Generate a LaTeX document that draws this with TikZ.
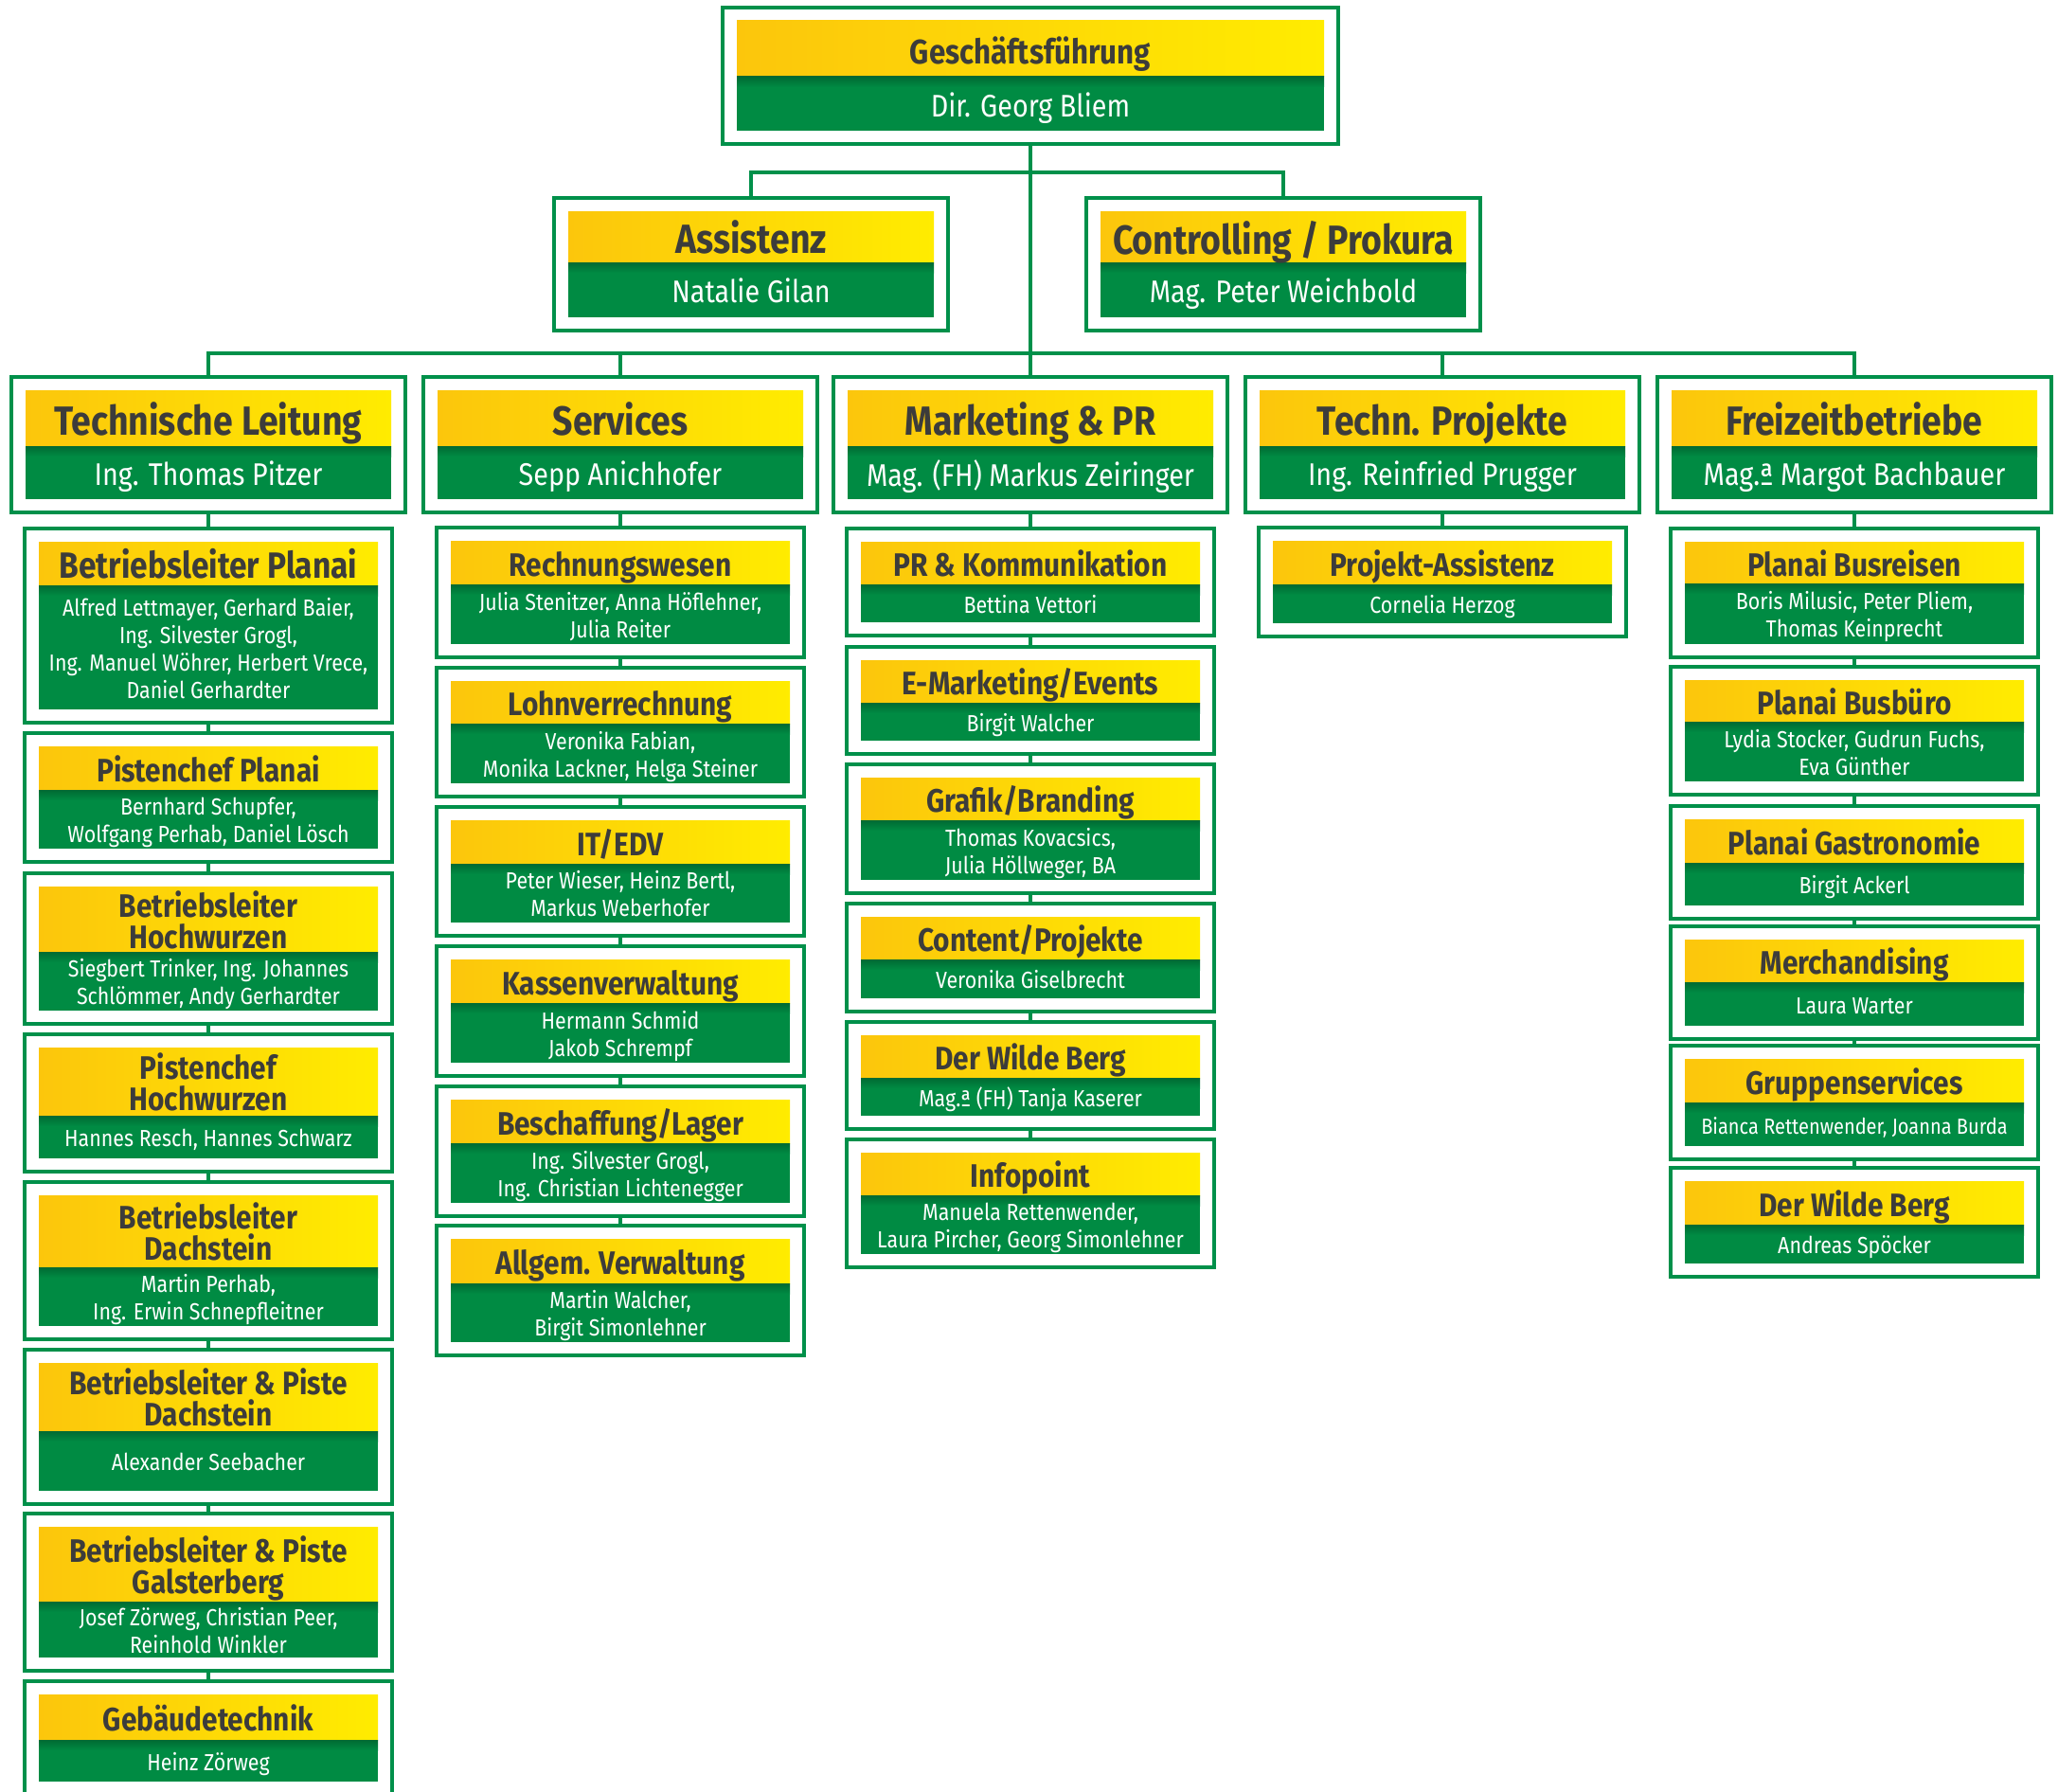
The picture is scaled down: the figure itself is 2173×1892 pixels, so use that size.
\documentclass[tikz,border=0pt]{standalone}
\usepackage{fontspec}
\setmainfont{Fira Sans}[FakeStretch=0.87]
\definecolor{linegreen}{HTML}{00904A}
\definecolor{bandgreen}{HTML}{008B43}
\definecolor{bandshadow}{HTML}{006A33}
\definecolor{ylA}{HTML}{FCC60C}
\definecolor{ylB}{HTML}{FFEC00}
\definecolor{headgray}{HTML}{3C3C3B}
\newcommand\tstrut{\vrule width0pt height0.8em depth0pt\relax}
\newcommand\bstrut{\vrule width0pt height0pt depth0.27em\relax}
\tikzset{
  outerbox/.style={draw=linegreen, line width=3.2pt, fill=white, inner sep=0pt, outer sep=0pt},
  conn/.style={draw=linegreen, line width=3.4pt},
  tophead/.style={text=headgray, font=\bfseries\fontsize{36}{36}\selectfont, inner sep=0pt, align=center, yshift=-6.5pt},
  topbody/.style={text=white, font=\fontsize{33}{36}\selectfont, inner sep=0pt, align=center, yshift=-5pt},
  bighead/.style={text=headgray, font=\bfseries\fontsize{43}{43}\selectfont, inner sep=0pt, align=center, yshift=-6.3pt},
  bigbody/.style={text=white, font=\fontsize{33}{36}\selectfont, inner sep=0pt, align=center, yshift=-5pt},
  subhead/.style={text=headgray, font=\bfseries\fontsize{34.3}{33}\selectfont, inner sep=0pt, align=center, yshift=-5pt},
  subbody/.style={text=white, font=\fontsize{24.6}{29}\selectfont, inner sep=0pt, align=center, yshift=-3.5pt},
}
% #1 name, #2 cx, #3 half width, #4 top, #5 bottom, #6 split, #7 header, #8 body, #9 style prefix
\newcommand\obox[9]{%
  \node[outerbox, minimum width={(2*#3)*1pt}, minimum height={(#5-#4)*1pt}] (#1) at (#2,{(#4+#5)/2}) {};
  \shade[left color=ylA, right color=ylB] ({#2-#3+15},{#4+14}) rectangle ({#2+#3-15},#6);
  \fill[bandgreen] ({#2-#3+15},#6) rectangle ({#2+#3-15},{#5-14});
  \shade[top color=bandshadow, bottom color=bandgreen] ({#2-#3+15},#6) rectangle ({#2+#3-15},{#6+11});
  \node[#9head] (#1-h) at (#2,{(#4+14+#6)/2}) {\tstrut#7\bstrut};
  \node[#9body] (#1-b) at (#2,{(#6+#5-14)/2}) {\tstrut#8\bstrut};
}
\newcommand\subx[7]{\obox{#1}{#2}{194}{#3}{#4}{#5}{#6}{#7}{sub}}
\begin{document}
\begin{tikzpicture}[x=1pt,y=-1pt]
\useasboundingbox (0,0) rectangle (2173,1892);
% top levels
\obox{gf}{1088}{325}{8}{152}{81}{Geschäftsführung}{Dir. Georg Bliem}{top}
\obox{asst}{793}{208}{209}{349}{277}{Assistenz}{Natalie Gilan}{big}
\obox{ctrl}{1355}{208}{209}{349}{277}{Controlling / Prokura}{Mag. Peter Weichbold}{big}
\obox{tl}{220}{208}{398}{541}{471}{Technische Leitung}{Ing. Thomas Pitzer}{big}
\obox{sv}{655}{208}{398}{541}{471}{Services}{Sepp Anichhofer}{big}
\obox{mk}{1088}{208}{398}{541}{471}{Marketing \& PR}{Mag. (FH) Markus Zeiringer}{big}
\obox{tp}{1523}{208}{398}{541}{471}{Techn. Projekte}{Ing. Reinfried Prugger}{big}
\obox{fz}{1958}{208}{398}{541}{471}{Freizeitbetriebe}{Mag.ª Margot Bachbauer}{big}
% Technische Leitung
\subx{tl1}{220}{558}{763}{618}{{\fontsize{38.5}{38}\selectfont Betriebsleiter Planai}}{Alfred Lettmayer, Gerhard Baier,\\Ing. Silvester Grogl,\\Ing. Manuel Wöhrer, Herbert Vrece,\\Daniel Gerhardter}
\subx{tl2}{220}{774}{910}{834}{Pistenchef Planai}{Bernhard Schupfer,\\Wolfgang Perhab, Daniel Lösch}
\subx{tl3}{220}{922}{1081}{1005}{Betriebsleiter\\Hochwurzen}{Siegbert Trinker, Ing. Johannes\\Schlömmer, Andy Gerhardter}
\subx{tl4}{220}{1092}{1237}{1178}{Pistenchef\\Hochwurzen}{Hannes Resch, Hannes Schwarz}
\subx{tl5}{220}{1248}{1414}{1338}{Betriebsleiter\\Dachstein}{Martin Perhab,\\Ing. Erwin Schnepfleitner}
\subx{tl6}{220}{1425}{1588}{1511}{Betriebsleiter \& Piste\\Dachstein}{Alexander Seebacher}
\subx{tl7}{220}{1598}{1764}{1691}{Betriebsleiter \& Piste\\Galsterberg}{Josef Zörweg, Christian Peer,\\Reinhold Winkler}
\subx{tl8}{220}{1775}{1895}{1837}{Gebäudetechnik}{Heinz Zörweg}
% Services
\subx{sv1}{655}{557}{694}{617}{Rechnungswesen}{Julia Stenitzer, Anna Höflehner,\\Julia Reiter}
\subx{sv2}{655}{705}{841}{764}{Lohnverrechnung}{Veronika Fabian,\\Monika Lackner, Helga Steiner}
\subx{sv3}{655}{852}{988}{912}{IT/EDV}{Peter Wieser, Heinz Bertl,\\Markus Weberhofer}
\subx{sv4}{655}{999}{1136}{1059}{Kassenverwaltung}{Hermann Schmid\\Jakob Schrempf}
\subx{sv5}{655}{1147}{1284}{1207}{Beschaffung/Lager}{Ing. Silvester Grogl,\\Ing. Christian Lichtenegger}
\subx{sv6}{655}{1294}{1431}{1355}{Allgem. Verwaltung}{Martin Walcher,\\Birgit Simonlehner}
% Marketing
\subx{mk1}{1088}{558}{671}{617}{PR \& Kommunikation}{Bettina Vettori}
\subx{mk2}{1088}{683}{796}{742}{E-Marketing/Events}{Birgit Walcher}
\subx{mk3}{1088}{807}{943}{866}{Grafik/Branding}{Thomas Kovacsics,\\Julia Höllweger, BA}
\subx{mk4}{1088}{954}{1068}{1013}{Content/Projekte}{Veronika Giselbrecht}
\subx{mk5}{1088}{1079}{1192}{1138}{Der Wilde Berg}{Mag.ª (FH) Tanja Kaserer}
\subx{mk6}{1088}{1203}{1338}{1262}{Infopoint}{Manuela Rettenwender,\\Laura Pircher, Georg Simonlehner}
% Techn. Projekte
\subx{tp1}{1523}{557}{672}{617}{Projekt-Assistenz}{Cornelia Herzog}
% Freizeitbetriebe
\subx{fz1}{1958}{558}{694}{616}{Planai Busreisen}{Boris Milusic, Peter Pliem,\\Thomas Keinprecht}
\subx{fz2}{1958}{704}{839}{762}{Planai Busbüro}{Lydia Stocker, Gudrun Fuchs,\\Eva Günther}
\subx{fz3}{1958}{851}{970}{911}{Planai Gastronomie}{Birgit Ackerl}
\subx{fz4}{1958}{978}{1097}{1037}{Merchandising}{Laura Warter}
\subx{fz5}{1958}{1104}{1224}{1164}{Gruppenservices}{{\fontsize{23}{29}\selectfont Bianca Rettenwender, Joanna Burda}}
\subx{fz6}{1958}{1233}{1348}{1293}{Der Wilde Berg}{Andreas Spöcker}
% connectors
\coordinate (bar1) at (1088,182);
\coordinate (bar2) at (1088,373);
\draw[conn] (gf.south) -- (mk.north);
\draw[conn] (asst.north) |- (bar1);
\draw[conn] (ctrl.north) |- (bar1);
\draw[conn] (tl.north) |- (bar2);
\draw[conn] (sv.north) |- (bar2);
\draw[conn] (tp.north) |- (bar2);
\draw[conn] (fz.north) |- (bar2);
\draw[conn] (tl.south) -- (tl1.north);
\foreach \a/\b in {tl1/tl2,tl2/tl3,tl3/tl4,tl4/tl5,tl5/tl6,tl6/tl7,tl7/tl8}
  \draw[conn] (\a.south) -- (\b.north);
\draw[conn] (sv.south) -- (sv1.north);
\foreach \a/\b in {sv1/sv2,sv2/sv3,sv3/sv4,sv4/sv5,sv5/sv6}
  \draw[conn] (\a.south) -- (\b.north);
\draw[conn] (mk.south) -- (mk1.north);
\foreach \a/\b in {mk1/mk2,mk2/mk3,mk3/mk4,mk4/mk5,mk5/mk6}
  \draw[conn] (\a.south) -- (\b.north);
\draw[conn] (tp.south) -- (tp1.north);
\draw[conn] (fz.south) -- (fz1.north);
\foreach \a/\b in {fz1/fz2,fz2/fz3,fz3/fz4,fz4/fz5,fz5/fz6}
  \draw[conn] (\a.south) -- (\b.north);
\end{tikzpicture}
\end{document}
